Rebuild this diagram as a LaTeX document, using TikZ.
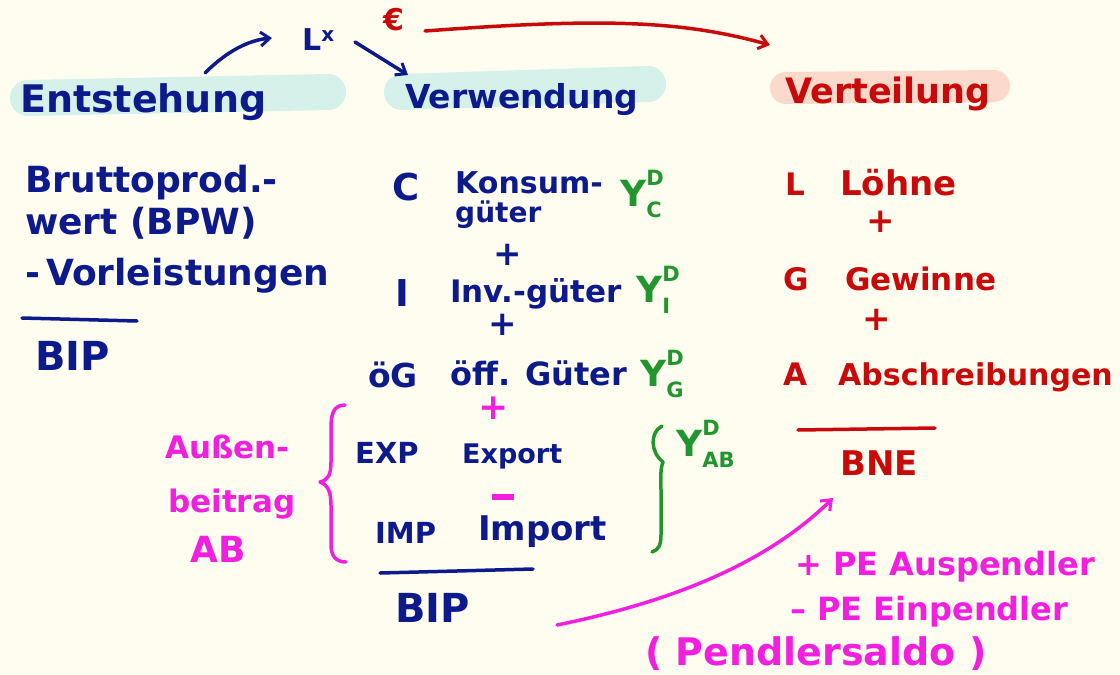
\documentclass[tikz,border=0pt]{standalone}
\usepackage{fontspec}
\setmainfont{DejaVu Sans}
\usetikzlibrary{arrows.meta}
\definecolor{bg}{HTML}{FFFDEF}
\definecolor{ink}{HTML}{0D1A8C}
\definecolor{rd}{HTML}{C80A0A}
\definecolor{gr}{HTML}{22962E}
\definecolor{mg}{HTML}{F21EE0}
\definecolor{hlteal}{HTML}{D5F1EA}
\definecolor{hlsalmon}{HTML}{FCDACB}
\newcommand{\ydlabel}[1]{Y\rlap{\raisebox{21pt}{\fontsize{21}{21}\selectfont D}}\raisebox{-11pt}{\fontsize{21}{21}\selectfont #1}}
\tikzset{
  hw/.style={anchor=base west, inner sep=0pt, font=\bfseries\fontsize{#1}{#1}\selectfont},
  hw/.default=32,
  stroke/.style={line width=3.5pt, line cap=round, line join=round},
  barb/.style={-{Straight Barb[length=9pt,width=14pt,line width=3pt]}},
  hl/.style={line width=36pt, line cap=round},
}
\begin{document}
\begin{tikzpicture}[x=1pt,y=-1pt]
\fill[bg] (0,0) rectangle (1120,675);
\useasboundingbox (0,0) rectangle (1120,675);
% highlights
\draw[hl, hlteal] (28,98) -- (328,92);
\draw[hl, hlteal] (402,92) -- (648,84);
\draw[hl, hlsalmon, line width=32pt] (786,88) -- (994,86);

% headers
\node[hw=38, text=ink] (ent) at (20,112) {Entstehung};
\node[hw=33, text=ink] (verw) at (405,108) {Verwendung};
\node[hw=35, text=rd] (vert) at (785,103) {Verteilung};

% top symbols
\node[hw=30, text=ink] (lx) at (302,50) {L\raisebox{9pt}{\fontsize{20}{20}\selectfont x}};
\node[hw=30, text=rd] (eur) at (383,30) {€};

\coordinate (a1s) at (205,73);
\coordinate (a1e) at (272,38);
\draw[stroke, ink, barb] (a1s) .. controls (228,50) and (250,40) .. (a1e);
\coordinate (a2s) at (355,42);
\coordinate (a2e) at (408,75);
\draw[stroke, ink, barb] (a2s) -- (a2e);
\coordinate (a3s) at (425,31);
\coordinate (a3e) at (770,45);
\draw[stroke, rd, barb] (a3s) .. controls (600,18) and (680,20) .. (a3e);

% left column
\node[hw=36, text=ink] (bpw1) at (25,192) {Bruttoprod.-};
\node[hw=36, text=ink] (bpw2) at (25,234) {wert (BPW)};
\node[hw=36, text=ink] (vl) at (25,285) {-\,Vorleistungen};
\draw[stroke, ink] (22,318) -- (137,321);
\node[hw=40, text=ink] (bipl) at (35,370) {BIP};

% middle column
\node[hw=37, text=ink] (c) at (392,200) {C};
\node[hw=30, text=ink] (kon1) at (455,193) {Konsum-};
\node[hw=28, text=ink] (kon2) at (455,222) {güter};
\node[hw=36, text=gr] (yc) at (620,206) {\ydlabel{C}};
\node[hw=34, text=ink, anchor=center] (p1) at (508,255) {+};
\node[hw=37, text=ink] (i) at (395,306) {I};
\node[hw=31, text=ink] (inv) at (450,302) {Inv.-güter};
\node[hw=36, text=gr] (yi) at (636,302) {\ydlabel{I}};
\node[hw=34, text=ink, anchor=center] (p2) at (503,325) {+};
\node[hw=33, text=ink] (og) at (368,387) {öG};
\node[hw=32, text=ink] (off) at (450,385) {öff. Güter};
\node[hw=36, text=gr] (yg) at (640,386) {\ydlabel{G}};
\node[hw=36, text=mg, anchor=center] (p3) at (494,408) {+};
\node[hw=29, text=ink] (exp) at (355,463) {EXP};
\node[hw=27, text=ink] (expt) at (462,463) {Export};
\node[hw=36, text=gr] (yab) at (676,456) {\ydlabel{AB}};
\draw[stroke, mg, line width=6pt, line cap=butt] (492,497) -- (514,497);
\node[hw=29, text=ink] (imp) at (375,543) {IMP};
\node[hw=34, text=ink] (impt) at (478,540) {Import};
\draw[stroke, ink] (380,573) -- (533,569);
\node[hw=40, text=ink] (bipm) at (395,622) {BIP};

% braces
\draw[stroke, mg] (345,405) .. controls (333,405) and (331,415) .. (331,428)
   -- (331,462) .. controls (331,475) and (328,480) .. (320,482)
   .. controls (328,485) and (331,492) .. (331,505)
   -- (331,545) .. controls (331,556) and (336,562) .. (346,562);
\draw[stroke, gr] (662,426) .. controls (650,432) and (650,452) .. (663,462)
   .. controls (660,470) and (661,478) .. (661,490)
   -- (661,535) .. controls (661,546) and (658,550) .. (652,552);

% Aussenbeitrag
\node[hw=31, text=mg] (ab1) at (165,458) {Außen-};
\node[hw=31, text=mg] (ab2) at (168,512) {beitrag};
\node[hw=36, text=mg] (ab3) at (190,562) {AB};

% right column
\node[hw=31, text=rd] (l) at (785,195) {L};
\node[hw=34, text=rd] (lo) at (840,195) {Löhne};
\node[hw=34, text=rd, anchor=center] (p4) at (881,222) {+};
\node[hw=31, text=rd] (g) at (783,290) {G};
\node[hw=31, text=rd] (ge) at (845,290) {Gewinne};
\node[hw=34, text=rd, anchor=center] (p5) at (877,320) {+};
\node[hw=31, text=rd] (a) at (783,385) {A};
\node[hw=30, text=rd] (abs) at (838,385) {Abschreibungen};
\draw[stroke, rd] (798,430) -- (935,428);
\node[hw=34, text=rd] (bne) at (840,475) {BNE};

% Pendler
\node[hw=32, text=mg] (pe1) at (795,575) {+ PE Auspendler};
\node[hw=32, text=mg] (pe2) at (790,620) {– PE Einpendler};
\node[hw=38, text=mg] (pe3) at (645,665) {( Pendlersaldo )};

\coordinate (a4s) at (557,625);
\coordinate (a4e) at (833,498);
\draw[stroke, mg, barb] (a4s) .. controls (680,600) and (770,560) .. (a4e);
\end{tikzpicture}
\end{document}
